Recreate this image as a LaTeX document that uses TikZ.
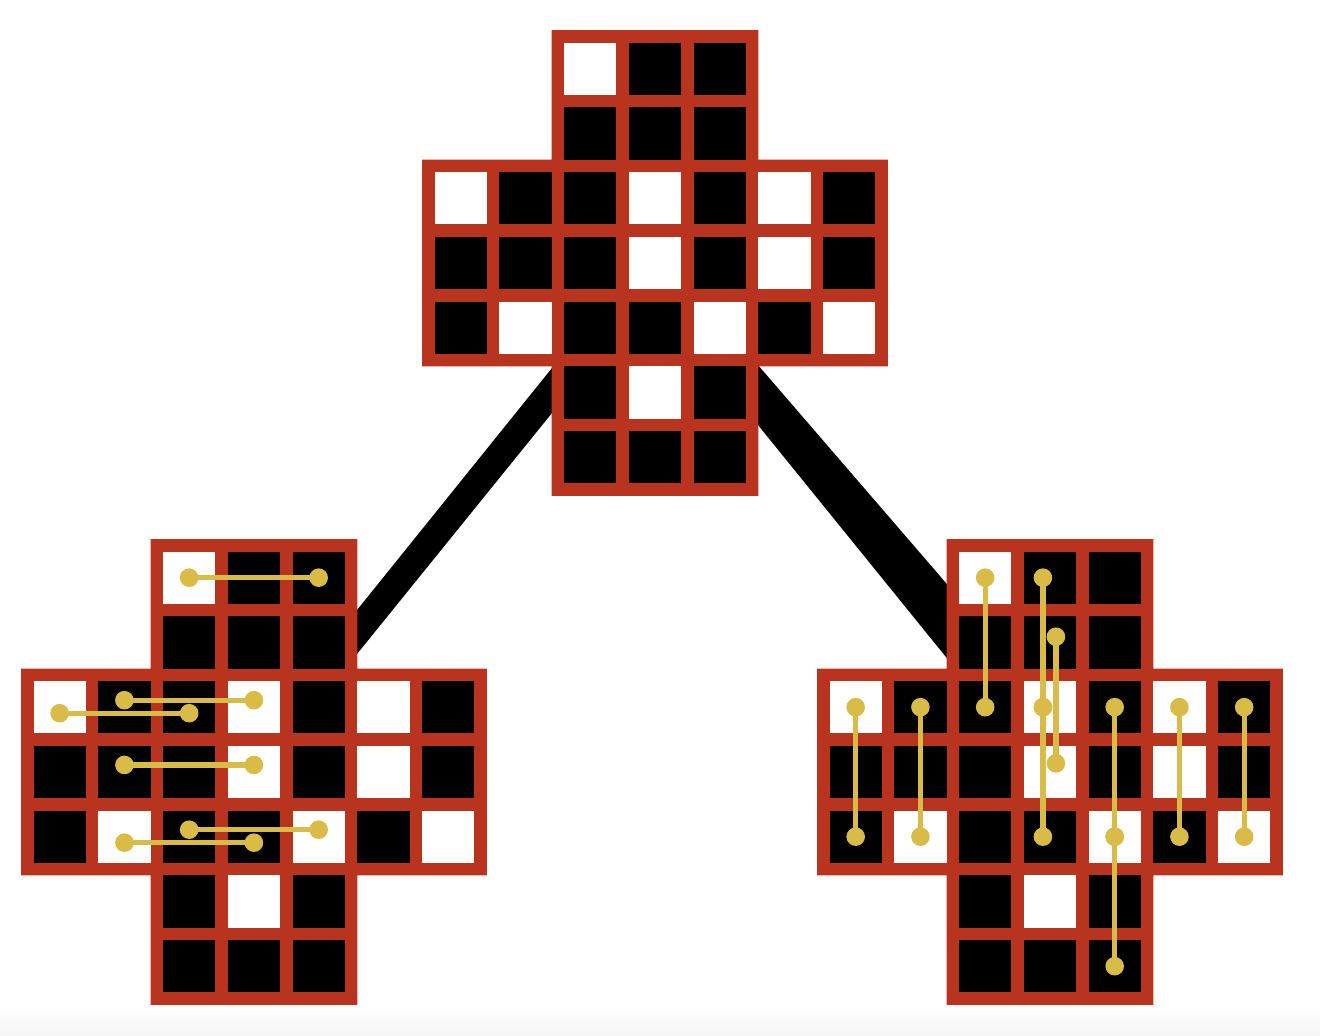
\documentclass[tikz,border=0pt]{standalone}
\usetikzlibrary{calc}
\definecolor{boardred}{RGB}{185,52,30}
\definecolor{pegyellow}{RGB}{216,188,71}
\tikzset{
  cell/.style={inner sep=0pt, outer sep=0pt, minimum size=52.15pt, draw=none},
  boardframe/.style={fill=boardred},
  movestroke/.style={draw=pegyellow, line width=5.3pt},
  pegdot/.style={fill=pegyellow},
  connector/.style={fill=black},
}
\newcommand\drawboard[3]{%
  \begin{scope}[shift={(#2,#3)}]
    \fill[boardframe] (129.5,0) -- (336.35,0) -- (336.35,129.5) -- (465.85,129.5)
      -- (465.85,336.35) -- (336.35,336.35) -- (336.35,465.85) -- (129.5,465.85)
      -- (129.5,336.35) -- (0,336.35) -- (0,129.5) -- (129.5,129.5) -- cycle;
    \foreach \c/\r/\k in {2/0/white,3/0/black,4/0/black,
      2/1/black,3/1/black,4/1/black,
      0/2/white,1/2/black,2/2/black,3/2/white,4/2/black,5/2/white,6/2/black,
      0/3/black,1/3/black,2/3/black,3/3/white,4/3/black,5/3/white,6/3/black,
      0/4/black,1/4/white,2/4/black,3/4/black,4/4/white,5/4/black,6/4/white,
      2/5/black,3/5/white,4/5/black,
      2/6/black,3/6/black,4/6/black}
      \node[cell, fill=\k] (#1-\c-\r) at ({38.675+64.75*\c},{38.675+64.75*\r}) {};
  \end{scope}}
\newcommand\pegmove[2]{%
  \draw[movestroke] #1 -- #2;
  \fill[pegdot] #1 circle[radius=9.3pt];
  \fill[pegdot] #2 circle[radius=9.3pt];}
\begin{document}
\begin{tikzpicture}[x=1pt,y=-1pt]
  \useasboundingbox (0,0) rectangle (1320,1036);
  \fill[white] (0,0) rectangle (1320,1036);
  \shade[top color=white, bottom color=black!4] (0,1004) rectangle (1320,1036);
  % connectors (behind the boards)
  \coordinate (la) at (606.8,300);
  \coordinate (lb) at (643.4,300);
  \coordinate (lc) at (319.8,700);
  \coordinate (ld) at (284.5,700);
  \coordinate (ra) at (701.9,300);
  \coordinate (rb) at (656.7,300);
  \coordinate (rc) at (980.8,700);
  \coordinate (rd) at (1046.9,700);
  \fill[connector] (la) -- (lb) -- (lc) -- (ld) -- cycle;
  \fill[connector] (ra) -- (rb) -- (rc) -- (rd) -- cycle;
  % boards
  \drawboard{T}{422}{30}
  \drawboard{L}{21}{539}
  \drawboard{R}{817}{539}
  % moves on the left board
  \pegmove{(L-2-0.center)}{(L-4-0.center)}
  \pegmove{([yshift=7pt]L-1-2.center)}{([yshift=7pt]L-3-2.center)}
  \pegmove{([yshift=-6pt]L-0-2.center)}{([yshift=-6pt]L-2-2.center)}
  \pegmove{([yshift=7pt]L-1-3.center)}{([yshift=7pt]L-3-3.center)}
  \pegmove{([yshift=7pt]L-2-4.center)}{([yshift=7pt]L-4-4.center)}
  \pegmove{([yshift=-6pt]L-1-4.center)}{([yshift=-6pt]L-3-4.center)}
  % moves on the right board
  \pegmove{(R-2-0.center)}{(R-2-2.center)}
  \pegmove{([xshift=-7pt]R-3-0.center)}{([xshift=-7pt]R-3-2.center)}
  \pegmove{([xshift=-7pt]R-3-2.center)}{([xshift=-7pt]R-3-4.center)}
  \pegmove{([xshift=6pt,yshift=5.7pt]R-3-1.center)}{([xshift=6pt,yshift=8.6pt]R-3-3.center)}
  \pegmove{(R-0-2.center)}{(R-0-4.center)}
  \pegmove{(R-1-2.center)}{(R-1-4.center)}
  \pegmove{(R-4-2.center)}{(R-4-4.center)}
  \pegmove{(R-4-4.center)}{(R-4-6.center)}
  \pegmove{(R-5-2.center)}{(R-5-4.center)}
  \pegmove{(R-6-2.center)}{(R-6-4.center)}
\end{tikzpicture}
\end{document}
